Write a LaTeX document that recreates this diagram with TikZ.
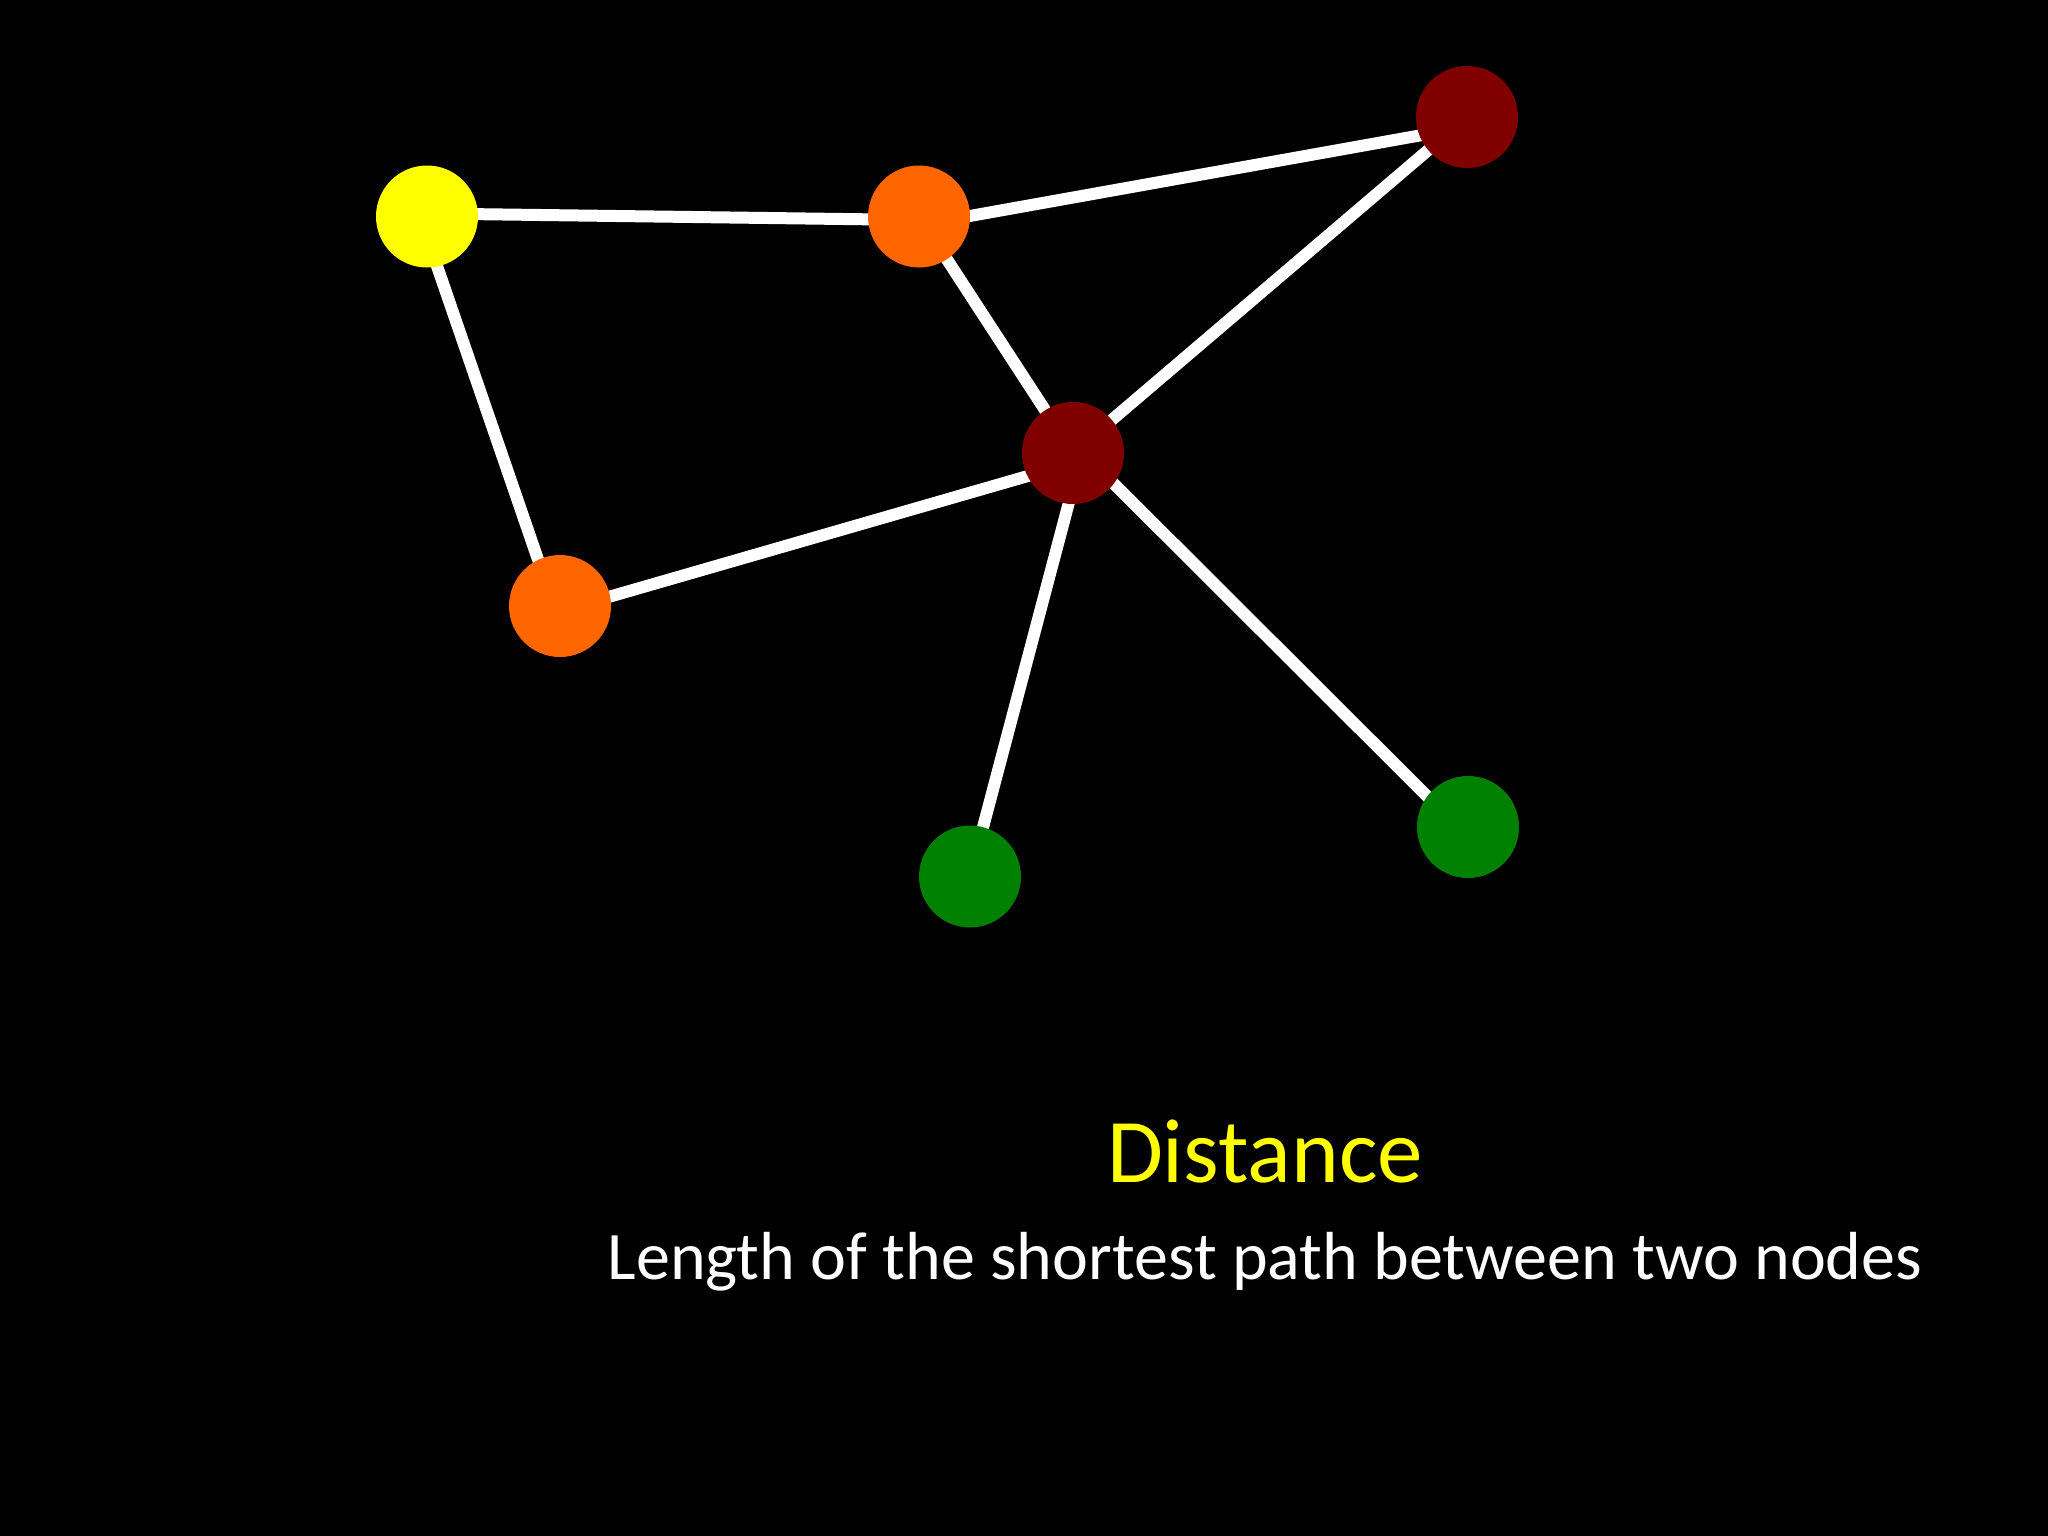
\documentclass[tikz,border=0pt]{standalone}
\usepackage{fontspec}
\setmainfont{Carlito}
\usetikzlibrary{calc}
\definecolor{cyellow}{HTML}{FFFF00}
\definecolor{corange}{HTML}{FF6600}
\definecolor{cred}{HTML}{800000}
\definecolor{cgreen}{HTML}{008000}
\begin{document}
\begin{tikzpicture}[x=1pt,y=-1pt,
  vert/.style={circle,minimum size=102pt,inner sep=0pt,draw=none},
  edge/.style={draw=white,line width=12pt}]
\fill[black] (0,0) rectangle (2048,1536);
\useasboundingbox (0,0) rectangle (2048,1536);
% node positions (circles are painted after the edges)
\coordinate (y) at (427,216.5);
\coordinate (o1) at (919,216.5);
\coordinate (r1) at (1467,117);
\coordinate (r2) at (1073,453);
\coordinate (o2) at (560,606);
\coordinate (g1) at (970,876.5);
\coordinate (g2) at (1468,827);
% edges
\path[edge] ($(y)+(0,-3)$) -- ($(o1)+(0,3.5)$);
\path[edge] ($(o1)+(0,8.6)$) -- ($(r1)+(0,10)$);
\path[edge] (r1) -- (r2);
\path[edge] (o1) -- (r2);
\path[edge] ($(y)+(-7,0)$) -- ($(o2)+(-6,0)$);
\path[edge] ($(o2)+(0,5)$) -- ($(r2)+(0,10)$);
\path[edge] ($(r2)+(9,0)$) -- (g1);
\path[edge] ($(r2)+(0,-10)$) -- ($(g2)+(0,10)$);
% vertices
\node[vert,fill=cyellow] (ny) at (y) {};
\node[vert,fill=corange] (no1) at (o1) {};
\node[vert,fill=cred] (nr1) at (r1) {};
\node[vert,fill=cred] (nr2) at (r2) {};
\node[vert,fill=corange] (no2) at (o2) {};
\node[vert,fill=cgreen] (ng1) at (g1) {};
\node[vert,fill=cgreen] (ng2) at (g2) {};
% texts
\node[anchor=base,text=cyellow,font=\fontsize{91}{100}\selectfont,inner sep=0pt] (t1) at (1265,1182) {Distance};
\node[anchor=base,text=white,font=\fontsize{68}{78}\selectfont,inner sep=0pt] (t2) at (1265,1279) {Length of the shortest path between two nodes};
\end{tikzpicture}
\end{document}
